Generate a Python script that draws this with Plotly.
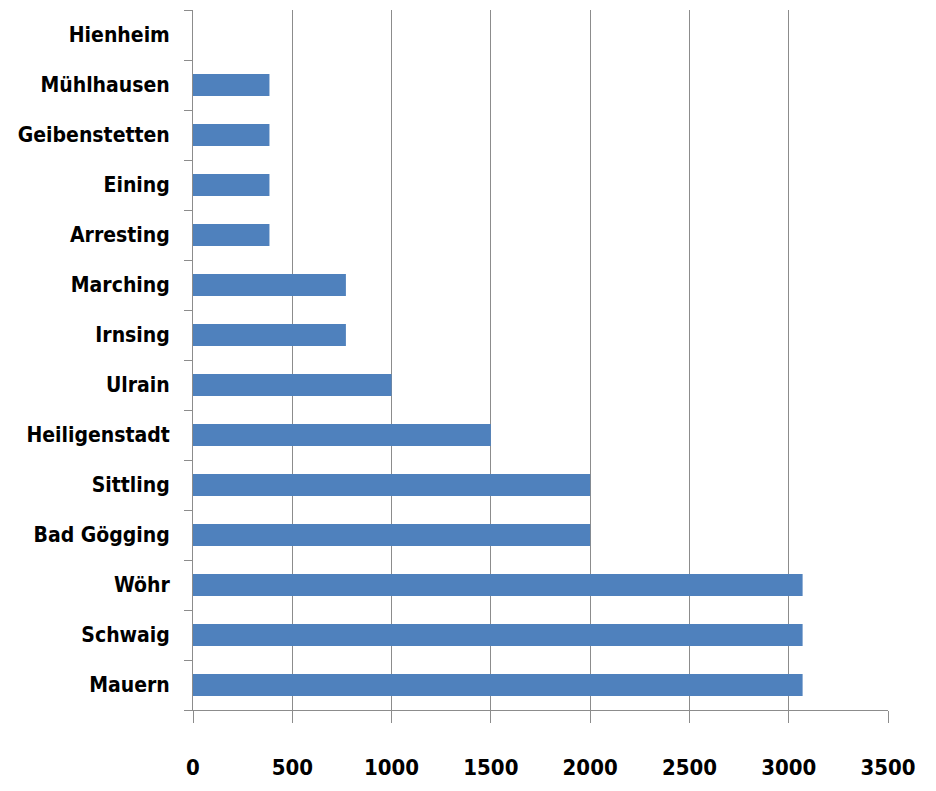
import plotly.graph_objects as go

categories = ["Mauern", "Schwaig", "Wöhr", "Bad Gögging", "Sittling", "Heiligenstadt",
              "Ulrain", "Irnsing", "Marching", "Arresting", "Eining", "Geibenstetten",
              "Mühlhausen", "Hienheim"]
values = [3070, 3070, 3070, 2000, 2000, 1500, 1000, 770, 770, 385, 385, 385, 385, 0]
x_ticks = [0, 500, 1000, 1500, 2000, 2500, 3000, 3500]

font_family = "DejaVu Sans Condensed, Liberation Sans Narrow, sans-serif"

fig = go.Figure(go.Bar(
    y=categories, x=values, orientation="h",
    marker=dict(color="#4F81BD", line=dict(width=0)),
    width=0.44,
))

fig.update_layout(
    width=920, height=775,
    margin=dict(l=185, r=40, t=2, b=73),
    paper_bgcolor="white", plot_bgcolor="white",
    showlegend=False,
    font=dict(family=font_family, color="black"),
    bargap=0.5,
)
fig.update_xaxes(
    range=[0, 3500], tickvals=x_ticks, ticktext=[str(v) for v in x_ticks],
    showgrid=True, gridcolor="#8C8C8C", gridwidth=1,
    showline=True, linecolor="#8C8C8C", linewidth=1,
    ticks="outside", ticklen=12, tickcolor="#8C8C8C",
    tickfont=dict(family=font_family, size=22, weight="bold"),
    ticklabelstandoff=26, zeroline=False, automargin=False,
)
fig.update_yaxes(
    type="category", categoryorder="array", categoryarray=categories,
    range=[-0.5, len(categories) - 0.5],
    showgrid=False, showline=True, linecolor="#8C8C8C", linewidth=1,
    ticks="outside", ticklen=8, tickcolor="#8C8C8C", tickson="boundaries",
    tickfont=dict(family=font_family, size=21, weight="bold"),
    ticklabelstandoff=18, automargin=False,
)

fig.write_html("out.html")
